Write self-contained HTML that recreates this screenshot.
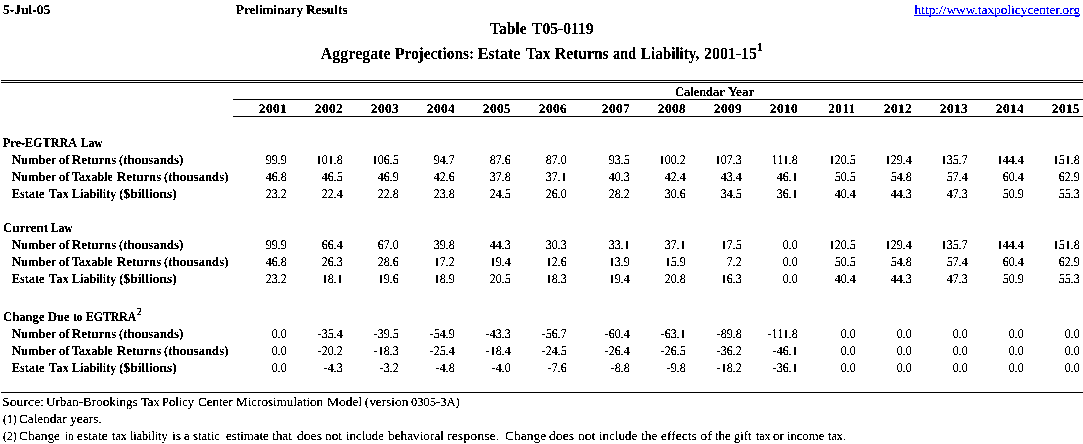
<!DOCTYPE html>
<html lang="en">
<head>
<meta charset="utf-8">
<title>Table T05-0119 - Aggregate Projections: Estate Tax Returns and Liability, 2001-15</title>
<style>
html,body{margin:0;padding:0;background:#fff;}
body{width:1083px;height:444px;overflow:hidden;position:relative;color:#000;
 font-family:"Liberation Serif",serif;font-size:13px;line-height:17px;}
.r{position:absolute;left:0;width:1100px;height:17px;white-space:nowrap;}
.r span{position:absolute;top:0;height:17px;transform-origin:0 13px;}
.layer{position:absolute;left:0;top:0;width:1083px;height:444px;overflow:hidden;}
#pb{filter:url(#fb);}
#pr{filter:url(#fr);}
.b{font-weight:bold;}
.r .v{width:56px;text-align:right;box-sizing:border-box;padding-right:13.3px;font-size:14.5px;font-weight:normal;transform-origin:43px 13px;transform:matrix(0.83,0,0.0005,0.92,0,0);}
.r .y{width:56px;text-align:center;font-weight:bold;font-size:13.3px;letter-spacing:0.45px;transform-origin:28px 13px;transform:matrix(1,0,0.0005,1,0,0);}
.hl{position:absolute;height:1px;background:#000;}
.t{font-weight:bold;font-size:16px;height:20px;line-height:20px;}
.r.t span{height:20px;}
.r .s{font-size:10px;font-weight:bold;}
a{color:#00f;text-decoration:underline;text-decoration-skip-ink:none;}
</style>
</head>
<body>
<svg width="0" height="0" style="position:absolute" aria-hidden="true">
<filter id="fb" x="0" y="0" width="100%" height="100%" color-interpolation-filters="sRGB"><feComponentTransfer><feFuncA type="discrete" tableValues="0 0 1 1 1"/></feComponentTransfer></filter>
<filter id="fr" x="0" y="0" width="100%" height="100%" color-interpolation-filters="sRGB"><feComponentTransfer><feFuncA type="discrete" tableValues="0 0 1 1 1"/></feComponentTransfer></filter>
</svg>

<div class="layer" id="pb">
<div class="r b" id="date" style="top:1px;font-size:13.3px;"><span style="left:2.5px;transform:matrix(1.018,0,0.0005,1,0,0)">5-Jul-05</span></div>
<div class="r b" id="prelim" style="top:1px;font-size:13.3px;"><span style="left:235.8px;transform:matrix(0.979,0,0.0005,1,0,0)">Preliminary</span> <span style="left:305.6px;transform:matrix(1.009,0,0.0005,1,0,0)">Results</span></div>
<div class="r t" id="t1" style="top:19px;"><span style="left:490.0px;transform:scaleX(0.973)">Table</span> <span style="left:532.3px;transform:scaleX(0.973)">T05-0119</span></div>
<div class="r t" id="t2" style="top:44px;"><span style="left:320.8px">Aggregate</span> <span style="left:394.8px;transform:scaleX(0.960)">Projections:</span> <span style="left:477.7px">Estate</span> <span style="left:525.8px;transform:scaleX(0.970)">Tax</span> <span style="left:554.9px;transform:scaleX(0.974)">Returns</span> <span style="left:613.4px;transform:scaleX(0.900)">and</span> <span style="left:641.4px;transform:scaleX(0.944)">Liability,</span> <span style="left:703.6px;transform:scaleX(0.994)">2001-15</span><span class="s" style="left:756.5px;top:-7px;font-size:12px">1</span></div>
<div class="hl" style="left:1px;top:80px;width:1082px;"></div>
<div class="hl" style="left:1px;top:82px;width:1082px;"></div>
<div class="r b" id="cy" style="top:83px;font-size:13.3px;"><span style="left:675.2px;transform:matrix(0.936,0,0.0005,1,0,0)">Calendar</span> <span style="left:728.0px;transform:matrix(0.996,0,0.0005,1,0,0)">Year</span></div>
<div class="hl" style="left:233px;top:99px;width:850px;"></div>
<div class="hl" style="left:233px;top:116px;width:850px;"></div>
<div class="r" id="yr" style="top:100px;"><span class="y" style="left:244.5px">2001</span> <span class="y" style="left:300.5px">2002</span> <span class="y" style="left:356.5px">2003</span> <span class="y" style="left:412.5px">2004</span> <span class="y" style="left:468.5px">2005</span> <span class="y" style="left:524.5px">2006</span> <span class="y" style="left:587.5px">2007</span> <span class="y" style="left:643.5px">2008</span> <span class="y" style="left:699.5px">2009</span> <span class="y" style="left:755.5px">2010</span> <span class="y" style="left:813.5px">2011</span> <span class="y" style="left:869.5px">2012</span> <span class="y" style="left:925.5px">2013</span> <span class="y" style="left:981.5px">2014</span> <span class="y" style="left:1037.5px">2015</span></div>
<div class="r b" id="pre" style="top:134px;font-size:13.3px;"><span style="left:3.1px;transform:matrix(0.913,0,0.0005,1,0,0)">Pre-EGTRRA</span> <span style="left:81.2px;transform:matrix(0.853,0,0.0005,1,0,0)">Law</span></div>
<div class="r b" style="top:151px;font-size:13.3px"><span style="left:12.0px;transform:matrix(0.941,0,0.0005,1,0,0)">Number</span> <span style="left:58.5px;transform:matrix(0.958,0,0.0005,1,0,0)">of</span> <span style="left:72.1px;transform:matrix(0.966,0,0.0005,1,0,0)">Returns</span> <span style="left:119.3px;transform:matrix(0.968,0,0.0005,1,0,0)">(thousands)</span></div>
<div class="r b" style="top:168px;font-size:13.3px"><span style="left:12.0px;transform:matrix(0.941,0,0.0005,1,0,0)">Number</span> <span style="left:58.5px;transform:matrix(0.958,0,0.0005,1,0,0)">of</span> <span style="left:72.3px;transform:matrix(0.914,0,0.0005,1,0,0)">Taxable</span> <span style="left:116.8px;transform:matrix(0.966,0,0.0005,1,0,0)">Returns</span> <span style="left:164.1px;transform:matrix(0.971,0,0.0005,1,0,0)">(thousands)</span></div>
<div class="r b" style="top:185px;font-size:13.3px"><span style="left:12.0px;transform:matrix(0.915,0,0.0005,1,0,0)">Estate</span> <span style="left:48.6px;transform:matrix(0.945,0,0.0005,1,0,0)">Tax</span> <span style="left:71.8px;transform:matrix(0.907,0,0.0005,1,0,0)">Liability</span> <span style="left:119.3px;transform:matrix(1.013,0,0.0005,1,0,0)">($billions)</span></div>
<div class="r b" id="cur" style="top:219px;font-size:13.3px;"><span style="left:3.2px;transform:matrix(0.974,0,0.0005,1,0,0)">Current</span> <span style="left:51.3px;transform:matrix(0.853,0,0.0005,1,0,0)">Law</span></div>
<div class="r b" style="top:236px;font-size:13.3px"><span style="left:12.0px;transform:matrix(0.941,0,0.0005,1,0,0)">Number</span> <span style="left:58.5px;transform:matrix(0.958,0,0.0005,1,0,0)">of</span> <span style="left:72.1px;transform:matrix(0.966,0,0.0005,1,0,0)">Returns</span> <span style="left:119.3px;transform:matrix(0.968,0,0.0005,1,0,0)">(thousands)</span></div>
<div class="r b" style="top:253px;font-size:13.3px"><span style="left:12.0px;transform:matrix(0.941,0,0.0005,1,0,0)">Number</span> <span style="left:58.5px;transform:matrix(0.958,0,0.0005,1,0,0)">of</span> <span style="left:72.3px;transform:matrix(0.914,0,0.0005,1,0,0)">Taxable</span> <span style="left:116.8px;transform:matrix(0.966,0,0.0005,1,0,0)">Returns</span> <span style="left:164.1px;transform:matrix(0.971,0,0.0005,1,0,0)">(thousands)</span></div>
<div class="r b" style="top:270px;font-size:13.3px"><span style="left:12.0px;transform:matrix(0.915,0,0.0005,1,0,0)">Estate</span> <span style="left:48.6px;transform:matrix(0.945,0,0.0005,1,0,0)">Tax</span> <span style="left:71.8px;transform:matrix(0.907,0,0.0005,1,0,0)">Liability</span> <span style="left:119.3px;transform:matrix(1.013,0,0.0005,1,0,0)">($billions)</span></div>
<div class="r b" id="chg" style="top:308px;font-size:13.3px;"><span style="left:3.2px;transform:matrix(0.953,0,0.0005,1,0,0)">Change</span> <span style="left:47.8px;transform:matrix(0.948,0,0.0005,1,0,0)">Due</span> <span style="left:72.9px;transform:matrix(0.868,0,0.0005,1,0,0)">to</span> <span style="left:85.8px;transform:matrix(0.885,0,0.0005,1,0,0)">EGTRRA</span><span class="s" style="left:136.7px;top:-5px">2</span></div>
<div class="r b" style="top:325px;font-size:13.3px"><span style="left:12.0px;transform:matrix(0.941,0,0.0005,1,0,0)">Number</span> <span style="left:58.5px;transform:matrix(0.958,0,0.0005,1,0,0)">of</span> <span style="left:72.1px;transform:matrix(0.966,0,0.0005,1,0,0)">Returns</span> <span style="left:119.3px;transform:matrix(0.968,0,0.0005,1,0,0)">(thousands)</span></div>
<div class="r b" style="top:342px;font-size:13.3px"><span style="left:12.0px;transform:matrix(0.941,0,0.0005,1,0,0)">Number</span> <span style="left:58.5px;transform:matrix(0.958,0,0.0005,1,0,0)">of</span> <span style="left:72.3px;transform:matrix(0.914,0,0.0005,1,0,0)">Taxable</span> <span style="left:116.8px;transform:matrix(0.966,0,0.0005,1,0,0)">Returns</span> <span style="left:164.1px;transform:matrix(0.971,0,0.0005,1,0,0)">(thousands)</span></div>
<div class="r b" style="top:359px;font-size:13.3px"><span style="left:12.0px;transform:matrix(0.915,0,0.0005,1,0,0)">Estate</span> <span style="left:48.6px;transform:matrix(0.945,0,0.0005,1,0,0)">Tax</span> <span style="left:71.8px;transform:matrix(0.907,0,0.0005,1,0,0)">Liability</span> <span style="left:119.3px;transform:matrix(1.013,0,0.0005,1,0,0)">($billions)</span></div>
<div class="hl" style="left:1px;top:392px;width:1082px;"></div>
</div>
<div class="layer" id="pr">
<div class="r" id="link" style="top:1px;font-size:13.33px;"><span style="left:914.6px"><a>http://www.taxpolicycenter.org</a></span></div>
<div class="r" style="top:151px;"><span class="v" style="left:244px">99.9</span> <span class="v" style="left:300px">101.8</span> <span class="v" style="left:356px">106.5</span> <span class="v" style="left:412px">94.7</span> <span class="v" style="left:468px">87.6</span> <span class="v" style="left:524px">87.0</span> <span class="v" style="left:587px">93.5</span> <span class="v" style="left:643px">100.2</span> <span class="v" style="left:699px">107.3</span> <span class="v" style="left:755px">111.8</span> <span class="v" style="left:813px">120.5</span> <span class="v" style="left:869px">129.4</span> <span class="v" style="left:925px">135.7</span> <span class="v" style="left:981px">144.4</span> <span class="v" style="left:1037px">151.8</span></div>
<div class="r" style="top:168px;"><span class="v" style="left:244px">46.8</span> <span class="v" style="left:300px">46.5</span> <span class="v" style="left:356px">46.9</span> <span class="v" style="left:412px">42.6</span> <span class="v" style="left:468px">37.8</span> <span class="v" style="left:524px">37.1</span> <span class="v" style="left:587px">40.3</span> <span class="v" style="left:643px">42.4</span> <span class="v" style="left:699px">43.4</span> <span class="v" style="left:755px">46.1</span> <span class="v" style="left:813px">50.5</span> <span class="v" style="left:869px">54.8</span> <span class="v" style="left:925px">57.4</span> <span class="v" style="left:981px">60.4</span> <span class="v" style="left:1037px">62.9</span></div>
<div class="r" style="top:185px;"><span class="v" style="left:244px">23.2</span> <span class="v" style="left:300px">22.4</span> <span class="v" style="left:356px">22.8</span> <span class="v" style="left:412px">23.8</span> <span class="v" style="left:468px">24.5</span> <span class="v" style="left:524px">26.0</span> <span class="v" style="left:587px">28.2</span> <span class="v" style="left:643px">30.6</span> <span class="v" style="left:699px">34.5</span> <span class="v" style="left:755px">36.1</span> <span class="v" style="left:813px">40.4</span> <span class="v" style="left:869px">44.3</span> <span class="v" style="left:925px">47.3</span> <span class="v" style="left:981px">50.9</span> <span class="v" style="left:1037px">55.3</span></div>
<div class="r" style="top:236px;"><span class="v" style="left:244px">99.9</span> <span class="v" style="left:300px">66.4</span> <span class="v" style="left:356px">67.0</span> <span class="v" style="left:412px">39.8</span> <span class="v" style="left:468px">44.3</span> <span class="v" style="left:524px">30.3</span> <span class="v" style="left:587px">33.1</span> <span class="v" style="left:643px">37.1</span> <span class="v" style="left:699px">17.5</span> <span class="v" style="left:755px">0.0</span> <span class="v" style="left:813px">120.5</span> <span class="v" style="left:869px">129.4</span> <span class="v" style="left:925px">135.7</span> <span class="v" style="left:981px">144.4</span> <span class="v" style="left:1037px">151.8</span></div>
<div class="r" style="top:253px;"><span class="v" style="left:244px">46.8</span> <span class="v" style="left:300px">26.3</span> <span class="v" style="left:356px">28.6</span> <span class="v" style="left:412px">17.2</span> <span class="v" style="left:468px">19.4</span> <span class="v" style="left:524px">12.6</span> <span class="v" style="left:587px">13.9</span> <span class="v" style="left:643px">15.9</span> <span class="v" style="left:699px">7.2</span> <span class="v" style="left:755px">0.0</span> <span class="v" style="left:813px">50.5</span> <span class="v" style="left:869px">54.8</span> <span class="v" style="left:925px">57.4</span> <span class="v" style="left:981px">60.4</span> <span class="v" style="left:1037px">62.9</span></div>
<div class="r" style="top:270px;"><span class="v" style="left:244px">23.2</span> <span class="v" style="left:300px">18.1</span> <span class="v" style="left:356px">19.6</span> <span class="v" style="left:412px">18.9</span> <span class="v" style="left:468px">20.5</span> <span class="v" style="left:524px">18.3</span> <span class="v" style="left:587px">19.4</span> <span class="v" style="left:643px">20.8</span> <span class="v" style="left:699px">16.3</span> <span class="v" style="left:755px">0.0</span> <span class="v" style="left:813px">40.4</span> <span class="v" style="left:869px">44.3</span> <span class="v" style="left:925px">47.3</span> <span class="v" style="left:981px">50.9</span> <span class="v" style="left:1037px">55.3</span></div>
<div class="r" style="top:325px;"><span class="v" style="left:244px">0.0</span> <span class="v" style="left:300px">-35.4</span> <span class="v" style="left:356px">-39.5</span> <span class="v" style="left:412px">-54.9</span> <span class="v" style="left:468px">-43.3</span> <span class="v" style="left:524px">-56.7</span> <span class="v" style="left:587px">-60.4</span> <span class="v" style="left:643px">-63.1</span> <span class="v" style="left:699px">-89.8</span> <span class="v" style="left:755px">-111.8</span> <span class="v" style="left:813px">0.0</span> <span class="v" style="left:869px">0.0</span> <span class="v" style="left:925px">0.0</span> <span class="v" style="left:981px">0.0</span> <span class="v" style="left:1037px">0.0</span></div>
<div class="r" style="top:342px;"><span class="v" style="left:244px">0.0</span> <span class="v" style="left:300px">-20.2</span> <span class="v" style="left:356px">-18.3</span> <span class="v" style="left:412px">-25.4</span> <span class="v" style="left:468px">-18.4</span> <span class="v" style="left:524px">-24.5</span> <span class="v" style="left:587px">-26.4</span> <span class="v" style="left:643px">-26.5</span> <span class="v" style="left:699px">-36.2</span> <span class="v" style="left:755px">-46.1</span> <span class="v" style="left:813px">0.0</span> <span class="v" style="left:869px">0.0</span> <span class="v" style="left:925px">0.0</span> <span class="v" style="left:981px">0.0</span> <span class="v" style="left:1037px">0.0</span></div>
<div class="r" style="top:359px;"><span class="v" style="left:244px">0.0</span> <span class="v" style="left:300px">-4.3</span> <span class="v" style="left:356px">-3.2</span> <span class="v" style="left:412px">-4.8</span> <span class="v" style="left:468px">-4.0</span> <span class="v" style="left:524px">-7.6</span> <span class="v" style="left:587px">-8.8</span> <span class="v" style="left:643px">-9.8</span> <span class="v" style="left:699px">-18.2</span> <span class="v" style="left:755px">-36.1</span> <span class="v" style="left:813px">0.0</span> <span class="v" style="left:869px">0.0</span> <span class="v" style="left:925px">0.0</span> <span class="v" style="left:981px">0.0</span> <span class="v" style="left:1037px">0.0</span></div>
<div class="r " id="src" style="top:393px;font-size:13.33px;"><span style="left:1.9px;transform:scaleX(1.034)">Source:</span> <span style="left:46.2px;transform:scaleX(0.983)">Urban-Brookings</span> <span style="left:140.8px;transform:scaleX(0.945)">Tax</span> <span style="left:162.4px;transform:scaleX(0.940)">Policy</span> <span style="left:198.2px;transform:scaleX(0.977)">Center</span> <span style="left:236.4px;transform:scaleX(0.981)">Microsimulation</span> <span style="left:326.7px;transform:scaleX(1.012)">Model</span> <span style="left:364.7px">(version</span> <span style="left:411.3px;transform:scaleX(0.938)">0305-3A)</span></div>
<div class="r " id="n1" style="top:410px;font-size:13.33px;"><span style="left:2.5px;transform:scaleX(0.876)">(1)</span> <span style="left:19.4px;transform:scaleX(0.989)">Calendar</span> <span style="left:70.3px;transform:scaleX(1.015)">years.</span></div>
<div class="r " id="n2" style="top:427px;font-size:13.33px;"><span style="left:2.5px;transform:scaleX(0.876)">(2)</span> <span style="left:19.4px;transform:scaleX(1.009)">Change</span> <span style="left:65.4px;transform:scaleX(0.800)">in</span> <span style="left:77.4px;transform:scaleX(1.010)">estate</span> <span style="left:112.1px;transform:scaleX(0.914)">tax</span> <span style="left:130.4px;transform:scaleX(0.904)">liability</span> <span style="left:171.6px;transform:scaleX(1.018)">is</span> <span style="left:184.4px;transform:scaleX(0.933)">a</span> <span style="left:193.4px;transform:scaleX(0.958)">static</span> <span style="left:225.5px;transform:scaleX(0.963)">estimate</span> <span style="left:272.3px;transform:scaleX(0.992)">that</span> <span style="left:296.5px;transform:scaleX(1.021)">does</span> <span style="left:325.0px">not</span> <span style="left:346.1px;transform:scaleX(0.966)">include</span> <span style="left:388.3px;transform:scaleX(0.995)">behavioral</span> <span style="left:446.8px;transform:scaleX(1.046)">response.</span> <span style="left:504.5px;transform:scaleX(1.014)">Change</span> <span style="left:549.3px;transform:scaleX(1.030)">does</span> <span style="left:577.8px;transform:scaleX(1.021)">not</span> <span style="left:598.9px;transform:scaleX(0.977)">include</span> <span style="left:641.0px;transform:scaleX(1.013)">the</span> <span style="left:660.9px;transform:scaleX(1.016)">effects</span> <span style="left:700.3px;transform:scaleX(1.095)">of</span> <span style="left:714.7px;transform:scaleX(0.968)">the</span> <span style="left:734.3px;transform:scaleX(0.933)">gift</span> <span style="left:755.8px;transform:scaleX(0.883)">tax</span> <span style="left:773.3px;transform:scaleX(0.990)">or</span> <span style="left:786.9px;transform:scaleX(0.951)">income</span> <span style="left:828.1px;transform:scaleX(0.914)">tax.</span></div>
</div>
</body>
</html>
